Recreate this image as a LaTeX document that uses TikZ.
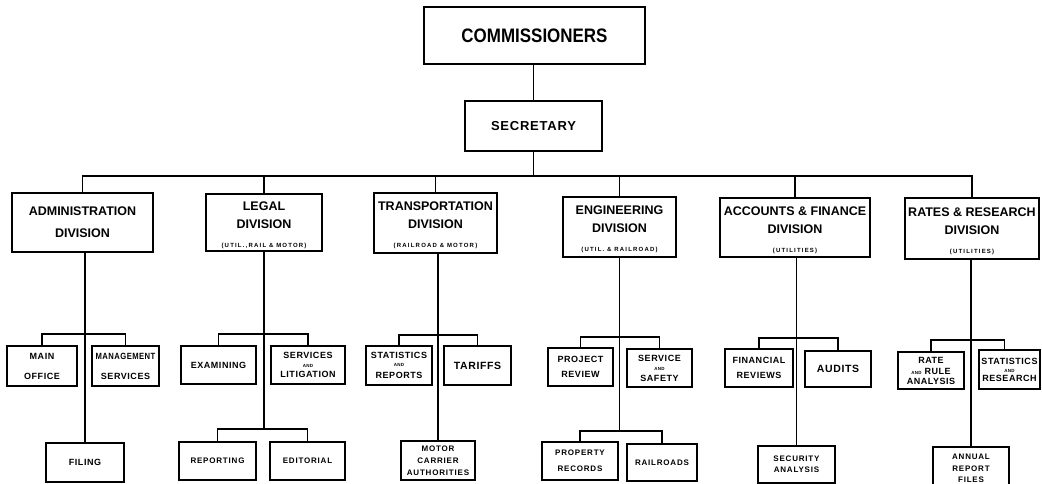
\documentclass[tikz,border=0pt]{standalone}
\usepackage{graphicx}
\usepackage{fontspec}
\setmainfont{Liberation Sans}
\newfontfamily\myLScondA[FakeStretch=0.87]{Liberation Sans}
\newfontfamily\myLSpar[LetterSpace=20]{Liberation Sans}
\newfontfamily\myLSmid[LetterSpace=6]{Liberation Sans}
\newfontfamily\myLSbot[LetterSpace=10]{Liberation Sans}
\newcommand\myfcomm{\myLScondA\bfseries\fontsize{19.5}{19.5}\selectfont}
\newcommand\myfsec{\myLSmid\bfseries\fontsize{13}{13}\selectfont}
\newcommand\myfdiv{\bfseries\fontsize{12.5}{12.5}\selectfont}
\newcommand\myfpar{\myLSpar\bfseries\fontsize{6}{6}\selectfont}
\newcommand\myfmid{\myLSmid\bfseries\fontsize{9}{9}\selectfont}
\newcommand\myfbig{\myLSmid\bfseries\fontsize{10.5}{10.5}\selectfont}
\newcommand\myfand{\bfseries\fontsize{4.5}{5}\selectfont}
\newcommand\myfbot{\myLSbot\bfseries\fontsize{8}{8}\selectfont}
\newcommand\mystrut{\rule{0pt}{13.5pt}}
\tikzset{
  conn/.style={line width=1.2pt},
  sz/.style 2 args={minimum width=#1pt, minimum height=#2pt},
  topbox/.style={draw, line width=1.5pt, inner sep=0pt, align=center},
  divbox/.style={draw, line width=1.8pt, inner sep=0pt, align=center, font=\myfdiv},
  midbox/.style={draw, line width=1.6pt, inner sep=0pt, align=center, font=\myfmid},
  botbox/.style={draw, line width=1.4pt, inner sep=0pt, align=center, font=\myfbot},
}
\begin{document}
\begin{tikzpicture}[x=1pt, y=-1pt]
\useasboundingbox (0,0) rectangle (1042,484);
\fill[white] (0,0) rectangle (1042,484);

% top
\node[topbox, font=\myfcomm, sz={221}{57}] (comm) at (534.5,35.5) {COMMISSIONERS};
\node[topbox, font=\myfsec, sz={137}{50}] (sec) at (533.5,126) {SECRETARY};

% divisions
\node[divbox, sz={141}{59}] (adm) at (82.5,222.5) {ADMINISTRATION\\[9.5pt]DIVISION};
\node[divbox, sz={116}{57}] (legal) at (264,222.5) {\mystrut LEGAL\\[5.5pt]DIVISION\\[6.5pt]{\myfpar (UTIL.,RAIL \& MOTOR)}};
\node[divbox, sz={123}{60}] (trans) at (435.5,223) {\mystrut TRANSPORTATION\\[5.5pt]DIVISION\\[6.5pt]{\myfpar (RAILROAD \& MOTOR)}};
\node[divbox, sz={113}{60}] (eng) at (619.5,227) {\mystrut ENGINEERING\\[5.5pt]DIVISION\\[6.5pt]{\myfpar (UTIL. \& RAILROAD)}};
\node[divbox, sz={150}{59}] (acc) at (795,227.5) {\mystrut ACCOUNTS \& FINANCE\\[5.5pt]DIVISION\\[6.5pt]{\myfpar (UTILITIES)}};
\node[divbox, sz={134}{61}] (rates) at (972,228.5) {\mystrut RATES \& RESEARCH\\[5.5pt]DIVISION\\[6.5pt]{\myfpar (UTILITIES)}};

% middle level
\node[midbox, sz={70}{40}] (mo) at (42,366) {MAIN\\[11pt]OFFICE};
\node[midbox, sz={67}{40}] (ms) at (125.5,366) {\scalebox{0.85}[1]{MANAGEMENT}\\[11pt]SERVICES};
\node[midbox, sz={75}{38}] (exam) at (218.5,365) {EXAMINING};
\node[midbox, sz={74}{38}] (svl) at (308,365) {SERVICES\\[0pt]{\myfand AND}\\[1pt]LITIGATION};
\node[midbox, sz={66}{39}] (sr) at (399,365.5) {STATISTICS\\[-1pt]{\myfand AND}\\[3pt]REPORTS};
\node[midbox, sz={67}{39}, font=\myfbig] (tar) at (477.5,365.5) {TARIFFS};
\node[midbox, sz={65}{38}] (pr) at (580.5,367) {PROJECT\\[6pt]REVIEW};
\node[midbox, sz={65}{38}] (ss) at (659.5,368) {SERVICE\\[0pt]{\myfand AND}\\[2pt]SAFETY};
\node[midbox, sz={68}{38}] (fr) at (759,368) {FINANCIAL\\[6pt]REVIEWS};
\node[midbox, sz={66}{36}, font=\myfbig] (aud) at (838,369) {AUDITS};
\node[midbox, sz={66}{37}] (rra) at (931,370.5) {RATE\\[2pt]{\myfand AND} RULE\\[1pt]ANALYSIS};
\node[midbox, sz={61}{39}] (sar) at (1009.5,369.5) {STATISTICS\\[-1pt]{\myfand AND}\\[0pt]RESEARCH};

% bottom level
\node[botbox, sz={78}{39}, font=\myfmid] (filing) at (85,462.5) {FILING};
\node[botbox, sz={77}{38}] (rep) at (217.5,461) {REPORTING};
\node[botbox, sz={75}{38}] (edit) at (307.5,461) {EDITORIAL};
\node[botbox, sz={74}{39}] (mca) at (438,460.5) {MOTOR\\[4pt]CARRIER\\[4pt]AUTHORITIES};
\node[botbox, sz={76}{38}] (prr) at (580,461) {PROPERTY\\[8pt]RECORDS};
\node[botbox, sz={70}{37}] (rr) at (662,462.5) {RAILROADS};
\node[botbox, sz={77}{37}] (sa) at (796.5,464.5) {SECURITY\\[3pt]ANALYSIS};
\node[botbox, sz={76}{42}] (arf) at (971,468) {ANNUAL\\[4pt]REPORT\\[3pt]FILES};

% bus coordinates
\coordinate (busT) at (0,176);
\coordinate (busA) at (0,334);
\coordinate (busL) at (0,334);
\coordinate (busL2) at (0,429);
\coordinate (busTr) at (0,335);
\coordinate (busE) at (0,337);
\coordinate (busE2) at (0,431);
\coordinate (busAc) at (0,338);
\coordinate (busR) at (0,340);

% top connectors
\draw[conn] (sec.north) -- (sec.north |- comm.south);
\draw[conn] (sec.south) -- (sec.south |- busT);
\draw[conn] (adm.north) -- (adm.north |- busT) -- (rates.north |- busT) -- (rates.north);
\foreach \n in {legal,trans,eng,acc} \draw[conn] (\n.north) -- (\n.north |- busT);

% administration
\draw[conn] (filing.north |- adm.south) -- (filing.north);
\draw[conn] (mo.north) -- (mo.north |- busA) -- (ms.north |- busA) -- (ms.north);

% legal
\draw[conn] (legal.south) -- (legal.south |- busL2);
\draw[conn] (exam.north) -- (exam.north |- busL) -- (svl.north |- busL) -- (svl.north);
\draw[conn] (rep.north) -- (rep.north |- busL2) -- (edit.north |- busL2) -- (edit.north);

% transportation
\draw[conn] (mca.north |- trans.south) -- (mca.north);
\draw[conn] (sr.north) -- (sr.north |- busTr) -- (tar.north |- busTr) -- (tar.north);

% engineering
\draw[conn] (eng.south) -- (eng.south |- busE2);
\draw[conn] (pr.north) -- (pr.north |- busE) -- (ss.north |- busE) -- (ss.north);
\draw[conn] (prr.north) -- (prr.north |- busE2) -- (rr.north |- busE2) -- (rr.north);

% accounts
\draw[conn] (sa.north |- acc.south) -- (sa.north);
\draw[conn] (fr.north) -- (fr.north |- busAc) -- (aud.north |- busAc) -- (aud.north);

% rates
\draw[conn] (arf.north |- rates.south) -- (arf.north);
\draw[conn] (rra.north) -- (rra.north |- busR) -- ([xshift=-5pt]sar.north |- busR) -- ([xshift=-5pt]sar.north);
\end{tikzpicture}
\end{document}
